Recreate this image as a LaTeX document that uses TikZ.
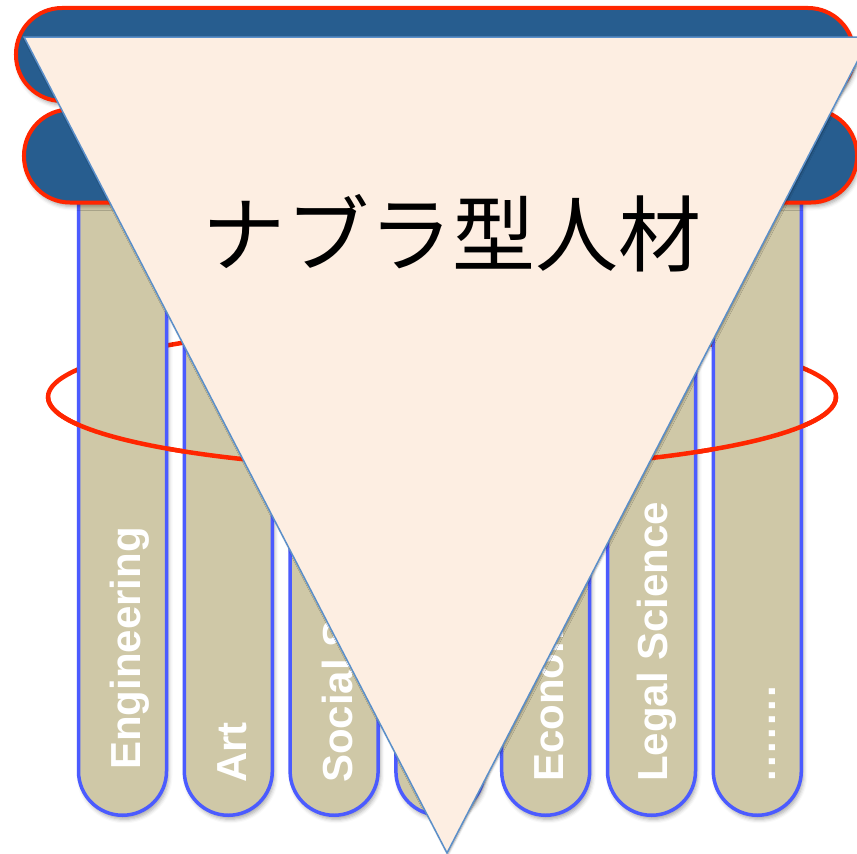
\documentclass[tikz,border=0pt]{standalone}
\usepackage{fontspec}
\usepackage{xcolor}
\usetikzlibrary{positioning,shadows.blur}
\setmainfont{Liberation Sans}
\newfontfamily\cjk{Noto Sans CJK JP}

\definecolor{barblue}{HTML}{275D8F}
\definecolor{ringred}{HTML}{FF2600}
\definecolor{stemtan}{HTML}{CFC8A7}
\definecolor{stemline}{HTML}{4B5BFF}
\definecolor{trifill}{HTML}{FDEEE2}
\definecolor{triline}{HTML}{5B8FC9}

\begin{document}
\begin{tikzpicture}[x=1bp, y=-1bp,
    hbar/.style = {draw=ringred, line width=4bp, fill=barblue, rounded corners=46bp,
                   minimum height=93bp, inner sep=0pt,
                   blur shadow={shadow xshift=2bp, shadow yshift=-4bp, shadow blur radius=4bp, shadow opacity=35}},
    stem/.style = {draw=stemline, line width=3.5bp, fill=stemtan, rounded corners=44bp,
                   minimum width=88bp, minimum height=665bp, inner sep=0pt,
                   blur shadow={shadow xshift=2bp, shadow yshift=-4bp, shadow blur radius=4bp, shadow opacity=35}},
    field/.style = {text=white, font=\bfseries\fontsize{42bp}{50bp}\selectfont,
                    rotate=90, anchor=base west, inner sep=0pt},
    ring/.style = {draw=ringred, line width=4.5bp},
    nabla/.style = {draw=triline, line width=1.5bp, fill=trifill,
                    blur shadow={shadow xshift=1bp, shadow yshift=-1bp, shadow blur radius=2bp, shadow opacity=40}}]
        \useasboundingbox (0,0) rectangle (857,854);
        \clip (0,0) rectangle (857,854);

        \coordinate (ec) at (442,397);
        \draw[ring] (ec) ellipse [x radius=394bp, y radius=72bp];

        \foreach \i in {1,...,7}
            \node[stem] (b\i) at ({122.5+105.8*(\i-1)},482.75) {};

        \node[field] (eng) at ([xshift=18bp, yshift=47bp]b1.south) {Engineering};
        \node[field] (art) at ([xshift=18bp, yshift=34bp]b2.south) {Art};
        \node[field] (soc) at ([xshift=18bp, yshift=34bp]b3.south) {Social Science};
        \node[field] (eco) at ([xshift=18bp, yshift=35bp]b5.south) {Economics};
        \node[field] (law) at ([xshift=16bp, yshift=35bp]b6.south) {Legal Science};
        \node[field] (etc) at ([xshift=18bp, yshift=35bp]b7.south) {.\kern2.3bp.\kern2.3bp.\kern2.3bp.\kern2.3bp.\kern2.3bp.\kern2.3bp.};

        \draw[ring] ([xshift=-394bp]ec) arc [start angle=180, end angle=360, x radius=394bp, y radius=72bp];

        \node[hbar, minimum width=838bp] (top) at (435,54.5) {};
        \node[hbar, minimum width=833bp] (mid) at (440.5,156) {};

        \coordinate (tl) at (24,37);
        \coordinate (tr) at (870,37);
        \coordinate (tb) at (447,853);
        \draw[nabla] (tl) -- (tr) -- (tb) -- cycle;

        \node[font=\cjk\fontsize{83bp}{90bp}\selectfont, inner sep=0pt] (title) at (452,233) {ナブラ型人材};
    \end{tikzpicture}
\end{document}
